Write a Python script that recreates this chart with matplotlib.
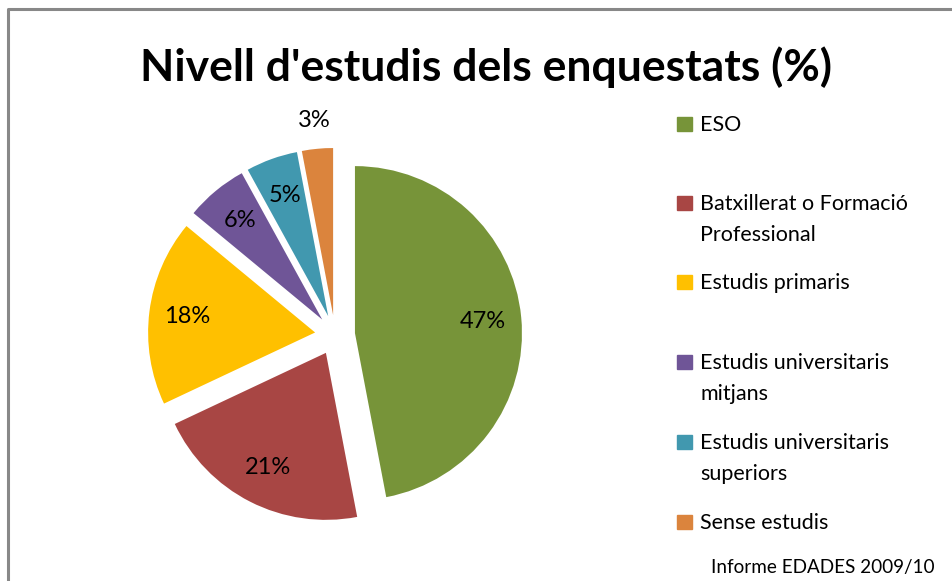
import matplotlib.pyplot as plt
from matplotlib.lines import Line2D
from matplotlib.patches import Rectangle

categories = ['ESO', 'Batxillerat o Formació\nProfessional', 'Estudis primaris',
              'Estudis universitaris\nmitjans', 'Estudis universitaris\nsuperiors',
              'Sense estudis']
values = [47, 21, 18, 6, 5, 3]
colors = ['#779439', '#A84644', '#FFC000', '#6F5597', '#4198AF', '#DB843D']
legend_y = [124, 203, 282, 362, 442, 522]  # pixel rows of legend entries

W, H = 953, 581
fig = plt.figure(figsize=(W / 100, H / 100), dpi=100)
plt.rcParams['font.family'] = ['Lato', 'DejaVu Sans']

# pie axes: radius ~167 px, centre at (335, 335) px
R = 167
side = 3 * R
cx, cy = 335, 335
ax = fig.add_axes([(cx - side / 2) / W, (H - cy - side / 2) / H, side / W, side / H])

wedges, texts, autotexts = ax.pie(values, colors=colors, startangle=90, counterclock=False,
                                  explode=[0.12] * len(values), autopct='%d%%',
                                  pctdistance=0.77, textprops={'fontsize': 17})
# small slice label sits outside
autotexts[-1].set_position((autotexts[-1].get_position()[0] * 1.45,
                            autotexts[-1].get_position()[1] * 1.45))
ax.set_xlim(-1.5, 1.5)
ax.set_ylim(-1.5, 1.5)
ax.set_aspect('equal')

fig.text(486 / W, 1 - 67 / H, "Nivell d'estudis dels enquestats (%)",
         ha='center', va='center', fontsize=32, fontweight='bold')

# legend
for lab, col, y in zip(categories, colors, legend_y):
    fig.patches.append(Rectangle((677 / W, 1 - (y + 7) / H), 15 / W, 14 / H,
                                 transform=fig.transFigure, color=col))
    for i, line in enumerate(lab.split('\n')):
        fig.text(700 / W, 1 - (y + 7 + 31 * i) / H, line, ha='left', va='baseline',
                 fontsize=15.5)

fig.text(935 / W, 1 - 568 / H, 'Informe EDADES 2009/10', ha='right', va='center',
         fontsize=13.6)

# chart border (left and top visible)
fig.lines.append(Line2D([8.5 / W, 8.5 / W, 1], [0, 1 - 9 / H, 1 - 9 / H],
                        transform=fig.transFigure, color='#888888', lw=2.2))

fig.savefig('out.png', dpi=100)
